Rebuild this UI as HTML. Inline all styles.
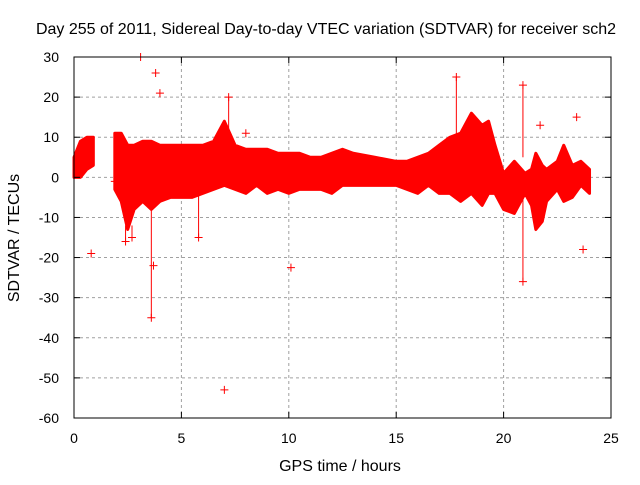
<!DOCTYPE html>
<html><head><meta charset="utf-8"><style>
body{margin:0;background:#fff;}
svg text{font-family:"Liberation Sans",sans-serif;font-size:14px;fill:#000;}
svg text.big{font-size:16px;}
</style></head><body>
<svg id="c" width="640" height="480" xmlns="http://www.w3.org/2000/svg">
<text class="big" x="326" y="34" text-anchor="middle">Day 255 of 2011, Sidereal Day-to-day VTEC variation (SDTVAR) for receiver sch2</text>
<text class="big" x="340" y="471" text-anchor="middle">GPS time / hours</text>
<text class="big" transform="translate(19,238) rotate(-90)" text-anchor="middle">SDTVAR / TECUs</text>
<g id="grid"></g><g id="data"></g><g id="axes"></g>
</svg>
<script>
const xTicks=[0,5,10,15,20,25];
const yTicks=[30,20,10,0,-10,-20,-30,-40,-50,-60];
const segA_hours=[0,0.3,0.6,0.9];
const segA_upper=[5,9,10,10];
const segA_lower=[0,0,2,3];
const segB_hours=[1.9,2.2,2.5,2.8,3.2,3.6,4.0,4.5,5.0,5.5,6.0,6.5,7.0,7.5,8.0,8.5,9.0,9.5,10.0,10.5,11,11.5,12,12.5,13,14,15,15.5,16,16.5,17,17.5,18,18.5,19,19.3,19.6,20,20.5,21,21.3,21.5,21.8,22,22.5,22.8,23.2,23.6,24];
const segB_upper=[11,11,8,8,9,9,8,8,8,8,8,9,14,8,7,7,7,6,6,6,5,5,6,7,6,5,4,4,5,6,8,10,11,16,13,14,8,1,4,1,2,6,3,2,4,8,3,4,2];
const segB_lower=[-3,-6,-13,-8,-6,-8,-6,-5,-5,-5,-4,-3,-2,-3,-4,-2,-4,-3,-4,-3,-3,-3,-4,-2,-2,-2,-2,-3,-4,-2,-4,-4,-6,-4,-7,-4,-4,-8,-9,-4,-7,-13,-11,-6,-3,-6,-5,-2,-4];
const outHours=[0.8,3.1,3.8,4.0,3.6,3.7,7.0,10.1,2.4,2.7,17.8,20.9,20.9,23.7,23.4,21.7,1.9,5.8,7.2,8.0];
const outValues=[-19,30,26,21,-35,-22,-53,-22.5,-16,-15,25,-26,23,-18,15,13,-1,-15,20,11];
const outBarTo=[null,null,null,null,-6,null,null,null,-12,-12,10,-5,5,null,null,null,null,-3,10,null];
const L=74,R=611,T=57,B=418;
const sx=v=>L+(v-0)/25*(R-L);
const sy=v=>T+(30-v)/90*(B-T);
const NS='http://www.w3.org/2000/svg';
function mk(tag,attrs,parent){const e=document.createElementNS(NS,tag);for(const k in attrs)e.setAttribute(k,attrs[k]);document.getElementById(parent).appendChild(e);return e;}
xTicks.forEach(t=>{
 if(t>0&&t<25){const g=mk('line',{x1:sx(t),x2:sx(t),y1:T,y2:B,stroke:'#a0a0a0','stroke-dasharray':'3,3'},'grid');}
 const tk=mk('line',{x1:sx(t),x2:sx(t),y1:B,y2:B-6,stroke:'#000'},'axes');
 const tk2=mk('line',{x1:sx(t),x2:sx(t),y1:T,y2:T+6,stroke:'#000'},'axes');
 const tx=mk('text',{x:sx(t),y:B+25,'text-anchor':'middle'},'axes');tx.textContent=t;
});
yTicks.forEach(t=>{
 if(t<30&&t>-60){const g=mk('line',{x1:L,x2:R,y1:sy(t),y2:sy(t),stroke:'#a0a0a0','stroke-dasharray':'3,3'},'grid');}
 const tk=mk('line',{x1:L,x2:L+6,y1:sy(t),y2:sy(t),stroke:'#000'},'axes');
 const tk2=mk('line',{x1:R,x2:R-6,y1:sy(t),y2:sy(t),stroke:'#000'},'axes');
 const tx=mk('text',{x:L-15,y:sy(t)+5,'text-anchor':'end'},'axes');tx.textContent=t;
});
const fr=mk('rect',{x:L,y:T,width:R-L,height:B-T,fill:'none',stroke:'#000'},'axes');

function band(h,u,l,name){
 let pts=h.map((v,i)=>sx(v)+','+sy(u[i]));
 for(let i=h.length-1;i>=0;i--)pts.push(sx(h[i])+','+sy(l[i]));
 const p=mk('polygon',{points:pts.join(' '),fill:'#ff0000',stroke:'#ff0000','stroke-width':3,'stroke-linejoin':'round'},'data');
 
}
band(segA_hours,segA_upper,segA_lower,'data-band-early');
band(segB_hours,segB_upper,segB_lower,'data-band-main');
outHours.forEach((h,i)=>{
 const x=sx(h),y=sy(outValues[i]);
 if(outBarTo[i]!==null){
  const ln=mk('line',{x1:x,x2:x,y1:y,y2:sy(outBarTo[i]),stroke:'#ff0000','stroke-width':1},'data');
  
 }
 const p=mk('path',{d:`M${x-4},${y}H${x+4}M${x},${y-4}V${y+4}`,stroke:'#ff0000','stroke-width':1,fill:'none'},'data');
 
});
</script>
</body></html>
